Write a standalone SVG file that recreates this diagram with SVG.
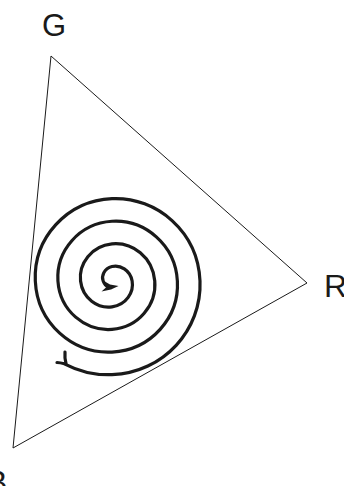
<svg xmlns="http://www.w3.org/2000/svg" width="344" height="486" viewBox="0 0 344 486">
<style>
.lbl{font-family:"Liberation Sans",Arial,sans-serif;fill:#1a1a1a}
.tri{fill:none;stroke:#1a1a1a;stroke-width:1}
.sp{fill:none;stroke:#1a1a1a;stroke-width:3.2;stroke-linecap:round;stroke-linejoin:round}
</style>
<rect width="344" height="486" fill="#fff"/>
<g id="triangle">
<polygon class="tri" points="51,56 307,283 13,448"/>
</g>
<g id="label-G"><text class="lbl" x="42" y="36" font-size="31">G</text></g>
<g id="label-R"><text class="lbl" x="324" y="297" font-size="32">R</text></g>
<g id="label-B"><text class="lbl" x="-14" y="493" font-size="32">B</text></g>
<g id="connectors">
<path id="spiral" class="sp" d="M57,362.5 Q60,362.6 64.4,363.8 C79.14,371.5 95.7,375.28 112,374.65
C163.72,372.65 202,329.6 200,281
C198,232.4 157.48,196.65 112,198.65
C66.52,200.65 33.31,238.64 35.31,281
C37.31,323.36 72.76,354.04 112,352.04
C151.24,350.04 179.38,317.11 177.38,281
C175.38,244.89 144.99,219.27 112,221.27
C79.01,223.27 55.93,251.14 57.93,281
C59.93,310.86 85.26,331.42 112,329.42
C138.74,327.42 156.76,304.62 154.76,281
C152.76,257.38 132.5,241.89 112,243.89
C91.5,245.89 78.55,263.63 80.55,281
C82.55,298.37 97.75,308.8 112,306.8
C126.25,304.8 134.14,292.12 132.14,281
C130.14,269.88 120,264.51 112,266.51
C104,268.51 101.17,276.12 103.17,281
C104.5,284.5 106,286.5 108.5,287"/>
<path id="tail-barb" class="sp" stroke-width="2.6" d="M66,363.5 Q64.5,358 65,352"/>
<polygon id="head" fill="#1a1a1a" points="104,281 110,284.5 118.5,286 111,289.5 101.5,291.5 106.5,287"/>
</g>
</svg>
